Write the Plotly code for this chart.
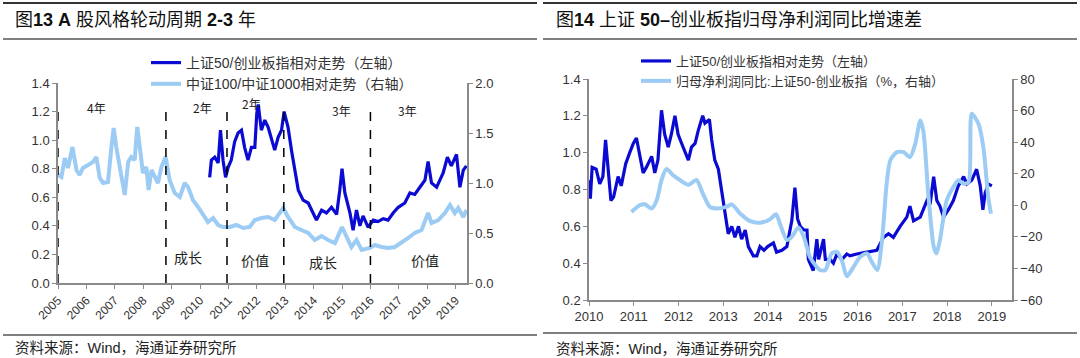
import plotly.graph_objects as go

# ---------------- data: left chart (图13) ----------------
zz_years = [2005.0, 2005.12, 2005.24, 2005.35, 2005.51, 2005.65, 2005.76, 2005.88, 2006.06, 2006.23,
            2006.35, 2006.47, 2006.59, 2006.76, 2006.88, 2006.96, 2007.05, 2007.2, 2007.35, 2007.47,
            2007.58, 2007.7, 2007.79, 2007.88, 2007.99, 2008.11, 2008.19, 2008.29, 2008.41, 2008.52,
            2008.64, 2008.79, 2008.93, 2009.11, 2009.29, 2009.46, 2009.58, 2009.75, 2009.93, 2010.11,
            2010.28, 2010.46, 2010.64, 2010.81, 2011.05, 2011.28, 2011.52, 2011.75, 2011.93, 2012.16,
            2012.4, 2012.63, 2012.93, 2013.1, 2013.34, 2013.57, 2013.81, 2014.04, 2014.28, 2014.51,
            2014.75, 2015.0, 2015.16, 2015.33, 2015.51, 2015.69, 2015.98, 2016.16, 2016.39, 2016.62,
            2016.86, 2017.09, 2017.33, 2017.56, 2017.8, 2018.03, 2018.15, 2018.39, 2018.62, 2018.8,
            2018.97, 2019.09, 2019.27, 2019.38]
zz100_1000 = [1.08, 1.06, 1.25, 1.15, 1.36, 1.13, 1.08, 1.15, 1.18, 1.21,
              1.26, 1.05, 1.0, 1.01, 1.36, 1.55, 1.36, 1.1, 0.88, 1.21,
              1.26, 1.23, 1.56, 1.36, 1.1, 1.16, 0.93, 1.13, 1.06, 1.0,
              1.16, 1.26, 1.03, 0.9, 0.86, 1.0, 0.96, 0.83, 0.76, 0.68,
              0.61, 0.65, 0.58, 0.56, 0.56, 0.58, 0.55, 0.56, 0.63, 0.65,
              0.66, 0.63, 0.75, 0.66, 0.56, 0.53, 0.5, 0.43, 0.47, 0.43,
              0.4, 0.56, 0.47, 0.36, 0.43, 0.33, 0.35, 0.38, 0.36, 0.35,
              0.36, 0.4, 0.45, 0.5, 0.53, 0.7, 0.6, 0.63, 0.7, 0.78,
              0.7, 0.75, 0.66, 0.73]

sz_years_l = [2010.34, 2010.4, 2010.52, 2010.64, 2010.72, 2010.81, 2010.9, 2010.99, 2011.1, 2011.22,
              2011.34, 2011.46, 2011.57, 2011.69, 2011.81, 2011.93, 2012.0, 2012.05, 2012.16, 2012.28,
              2012.4, 2012.52, 2012.63, 2012.75, 2012.87, 2012.96, 2013.1, 2013.22, 2013.34, 2013.46,
              2013.63, 2013.81, 2013.98, 2014.1, 2014.28, 2014.45, 2014.63, 2014.81, 2014.92, 2015.0,
              2015.1, 2015.28, 2015.39, 2015.51, 2015.63, 2015.74, 2015.92, 2016.1, 2016.27, 2016.45,
              2016.62, 2016.8, 2016.98, 2017.21, 2017.39, 2017.56, 2017.74, 2017.92, 2018.03, 2018.15,
              2018.33, 2018.44, 2018.56, 2018.71, 2018.85, 2019.03, 2019.15, 2019.27, 2019.38]
sz50_cyb_l = [0.74, 0.86, 0.88, 0.84, 1.07, 0.86, 0.74, 0.81, 0.86, 0.99,
              1.05, 1.07, 0.95, 0.86, 0.95, 0.95, 1.19, 1.25, 1.07, 1.14,
              1.09, 1.0, 0.93, 1.02, 1.07, 1.2, 1.09, 0.93, 0.79, 0.65,
              0.58, 0.56, 0.49, 0.44, 0.51, 0.49, 0.53, 0.48, 0.65, 0.8,
              0.63, 0.49, 0.37, 0.51, 0.4, 0.47, 0.39, 0.44, 0.43, 0.45,
              0.44, 0.49, 0.53, 0.56, 0.63, 0.62, 0.67, 0.72, 0.85, 0.7,
              0.67, 0.72, 0.77, 0.88, 0.82, 0.9, 0.67, 0.79, 0.82]

cycle_years = [2005.0, 2008.8, 2010.95, 2012.95, 2016.0]
period_labels = ["4年", "2年", "2年", "3年", "3年"]
period_x = [2006.35, 2010.1, 2011.82, 2014.98, 2017.31]
period_y = [1.23, 1.23, 1.26, 1.21, 1.21]
style_labels = ["成长", "价值", "成长", "价值"]
style_x = [2009.57, 2011.93, 2014.32, 2017.91]
style_y = [0.18, 0.16, 0.15, 0.16]

left_xticks = list(range(2005, 2020))

# ---------------- data: right chart (图14) ----------------
sz_years_r = [2010.0, 2010.03, 2010.07, 2010.16, 2010.24, 2010.31, 2010.37, 2010.43, 2010.49, 2010.55,
              2010.65, 2010.72, 2010.82, 2010.91, 2010.99, 2011.06, 2011.13, 2011.21, 2011.28, 2011.4,
              2011.47, 2011.54, 2011.62, 2011.69, 2011.77, 2011.84, 2011.92, 2011.99, 2012.07, 2012.14,
              2012.22, 2012.29, 2012.37, 2012.44, 2012.54, 2012.59, 2012.69, 2012.74, 2012.81, 2012.89,
              2012.96, 2013.04, 2013.11, 2013.19, 2013.26, 2013.34, 2013.41, 2013.49, 2013.56, 2013.67,
              2013.75, 2013.82, 2013.91, 2013.99, 2014.12, 2014.19, 2014.31, 2014.42, 2014.53, 2014.6,
              2014.66, 2014.72, 2014.8, 2014.87, 2014.9, 2015.01, 2015.09, 2015.13, 2015.24, 2015.28,
              2015.39, 2015.46, 2015.54, 2015.65, 2015.76, 2015.83, 2015.98, 2016.21, 2016.43, 2016.58,
              2016.69, 2016.8, 2016.95, 2017.1, 2017.17, 2017.25, 2017.4, 2017.55, 2017.62, 2017.7,
              2017.77, 2017.84, 2017.92, 2018.03, 2018.14, 2018.25, 2018.37, 2018.44, 2018.55, 2018.66,
              2018.74, 2018.8, 2018.85, 2018.92, 2019.0]
sz50_cyb_r = [0.85, 0.75, 0.92, 0.91, 0.83, 0.87, 1.07, 0.91, 0.74, 0.76,
              0.87, 0.82, 0.94, 1.0, 1.05, 1.08, 0.98, 0.89, 0.92, 0.98,
              0.89, 0.96, 1.23, 1.1, 1.03, 1.1, 1.2, 1.1, 1.05, 1.01,
              0.96, 1.03, 1.05, 1.12, 1.2, 1.16, 1.18, 1.07, 0.96, 0.91,
              0.8, 0.67, 0.56, 0.6, 0.54, 0.6, 0.53, 0.58, 0.49, 0.44,
              0.44, 0.49, 0.47, 0.49, 0.51, 0.46, 0.47, 0.49, 0.63, 0.81,
              0.64, 0.6, 0.58, 0.58, 0.42, 0.36, 0.53, 0.42, 0.53, 0.42,
              0.42, 0.4, 0.45, 0.42, 0.45, 0.44, 0.45, 0.46, 0.47, 0.54,
              0.56, 0.54, 0.6, 0.65, 0.71, 0.63, 0.65, 0.74, 0.72, 0.87,
              0.74, 0.71, 0.65, 0.69, 0.74, 0.82, 0.87, 0.83, 0.85, 0.91,
              0.82, 0.69, 0.78, 0.83, 0.82]

np_years = [2010.95, 2011.13, 2011.25, 2011.4, 2011.51, 2011.62, 2011.73, 2011.88, 2012.03, 2012.22,
            2012.4, 2012.55, 2012.7, 2012.85, 2013.07, 2013.19, 2013.37, 2013.6, 2013.82, 2014.04,
            2014.18, 2014.27, 2014.42, 2014.53, 2014.68, 2014.8, 2014.94, 2015.16, 2015.28, 2015.42,
            2015.54, 2015.65, 2015.76, 2015.91, 2016.06, 2016.21, 2016.32, 2016.44, 2016.54, 2016.65,
            2016.73, 2016.88, 2017.03, 2017.17, 2017.29, 2017.4, 2017.47, 2017.58, 2017.7, 2017.76,
            2017.84, 2017.99, 2018.14, 2018.25, 2018.37, 2018.48, 2018.55, 2018.7, 2018.81, 2018.92,
            2018.98]
np_growth_diff = [-4.2, 0, 0.6, -2, 3, 16, 23, 19, 16, 13,
                  16, 7, -1, -2, -1, 0.6, -5, -10, -11, -9,
                  -5.7, -12, -22, -20, -14, -20, -33, -41, -41, -30.5,
                  -29.5, -35, -45, -39, -32.6, -30.5, -36, -41, -24, 13.7,
                  28.4, 33.7, 33.7, 30.5, 39, 53.7, 47, 7, -26, -30.5,
                  -22, 3, 11.6, 15.8, 13.7, 14.7, 58, 51.6, 36.8, 5,
                  -5.3]

right_xticks = list(range(2010, 2020))

# ---------------- styling ----------------
W, H = 1080, 358
DARK = "#0a0ad2"
LIGHT = "#9ccbf4"
AXC = "#8a8a8a"
TXT = "#333333"
FONT = "Liberation Sans, Arial, Noto Sans CJK SC"
CJK = "Noto Sans CJK SC"


def px(x):
    return x / W


def py(y):
    return 1 - y / H


fig = go.Figure()

fig.add_trace(go.Scatter(x=sz_years_l, y=sz50_cyb_l, mode="lines", name="上证50/创业板指相对走势（左轴）",
                         line=dict(color=DARK, width=3.2), xaxis="x", yaxis="y", legend="legend"))
fig.add_trace(go.Scatter(x=zz_years, y=zz100_1000, mode="lines", name="中证100/中证1000相对走势（右轴）",
                         line=dict(color=LIGHT, width=4), xaxis="x", yaxis="y2", legend="legend"))

fig.add_trace(go.Scatter(x=sz_years_r, y=sz50_cyb_r, mode="lines", name="上证50/创业板指相对走势（左轴）",
                         line=dict(color=DARK, width=3.2), xaxis="x2", yaxis="y3", legend="legend2"))
fig.add_trace(go.Scatter(x=np_years, y=np_growth_diff, mode="lines",
                         name="归母净利润同比:上证50-创业板指（%，右轴）",
                         line=dict(color=LIGHT, width=4, shape="spline", smoothing=0.7),
                         xaxis="x2", yaxis="y4", legend="legend2"))

axis_common = dict(showline=True, linecolor=AXC, linewidth=1.5, ticks="outside", tickcolor=AXC,
                   ticklen=4, tickwidth=1, showgrid=False, zeroline=False, automargin=False,
                   tickfont=dict(family=FONT, size=13, color=TXT))

L_dom_x = [px(58), px(467)]
L_dom_y = [py(283), py(83)]
R_dom_x = [px(589), px(1012)]
R_dom_y = [py(300), py(79)]

legend_common = dict(xanchor="left", yanchor="top", bgcolor="rgba(0,0,0,0)",
                     tracegroupgap=0, itemwidth=30)

fig.update_layout(
    width=W, height=H, margin=dict(l=0, r=0, t=0, b=0, autoexpand=False),
    paper_bgcolor="white", plot_bgcolor="white",
    xaxis=dict(axis_common, domain=L_dom_x, range=[2005, 2019.4], tickvals=left_xticks,
               ticktext=[str(v) for v in left_xticks], tickangle=-45,
               tickfont=dict(family=FONT, size=12, color=TXT), anchor="y"),
    yaxis=dict(axis_common, domain=L_dom_y, range=[0, 1.4], dtick=0.2, tickformat=".1f", anchor="x"),
    yaxis2=dict(axis_common, overlaying="y", side="right", range=[0, 2.0], dtick=0.5,
                tickformat=".1f", anchor="x"),
    xaxis2=dict(axis_common, domain=R_dom_x, range=[2010, 2019.45], tickvals=right_xticks,
                ticktext=[str(v) for v in right_xticks], anchor="y3"),
    yaxis3=dict(axis_common, domain=R_dom_y, range=[0.2, 1.4], dtick=0.2, tickformat=".1f", anchor="x2"),
    yaxis4=dict(axis_common, overlaying="y3", side="right", range=[-60, 80], dtick=20, anchor="x2"),
    legend=dict(legend_common, x=px(146), y=py(47), font=dict(family=FONT, size=14, color=TXT)),
    legend2=dict(legend_common, x=px(636), y=py(46), font=dict(family=FONT, size=13, color=TXT)),
)

shapes = []
for x0, x1 in [(3, 537), (543, 1077)]:
    shapes.append(dict(type="line", xref="paper", yref="paper", x0=px(x0), x1=px(x1), y0=py(3), y1=py(3),
                       line=dict(color="#333333", width=2)))
    shapes.append(dict(type="line", xref="paper", yref="paper", x0=px(x0), x1=px(x1), y0=py(39), y1=py(39),
                       line=dict(color="#555555", width=1.5)))
shapes.append(dict(type="line", xref="paper", yref="paper", x0=px(3), x1=px(537), y0=py(335), y1=py(335),
                   line=dict(color="#555555", width=1.5)))
shapes.append(dict(type="line", xref="paper", yref="paper", x0=px(543), x1=px(1077), y0=py(333), y1=py(333),
                   line=dict(color="#555555", width=1.5)))
for cy in cycle_years:
    shapes.append(dict(type="line", xref="x", yref="y", x0=cy, x1=cy, y0=0, y1=1.25,
                       line=dict(color="black", width=1.5, dash="dash")))
fig.update_layout(shapes=shapes)

ann = []
ann.append(dict(text="图<b>13 A</b> 股风格轮动周期 <b>2-3</b> 年", xref="paper", yref="paper",
                x=px(13), y=py(20), xanchor="left", yanchor="middle", showarrow=False,
                font=dict(family=FONT, size=18, color="#111111")))
ann.append(dict(text="图<b>14</b> 上证 <b>50–</b>创业板指归母净利润同比增速差", xref="paper", yref="paper",
                x=px(554), y=py(20), xanchor="left", yanchor="middle", showarrow=False,
                font=dict(family=FONT, size=18, color="#111111")))
ann.append(dict(text="资料来源：Wind，海通证券研究所", xref="paper", yref="paper",
                x=px(13), y=py(348), xanchor="left", yanchor="middle", showarrow=False,
                font=dict(family=FONT, size=14.5, color="#222222")))
ann.append(dict(text="资料来源：Wind，海通证券研究所", xref="paper", yref="paper",
                x=px(554), y=py(349), xanchor="left", yanchor="middle", showarrow=False,
                font=dict(family=FONT, size=14.5, color="#222222")))
for t, x, y in zip(period_labels, period_x, period_y):
    ann.append(dict(text=t, xref="x", yref="y", x=x, y=y, showarrow=False,
                    font=dict(family=CJK, size=12, color="#222222")))
for t, x, y in zip(style_labels, style_x, style_y):
    ann.append(dict(text=t, xref="x", yref="y", x=x, y=y, showarrow=False,
                    font=dict(family=CJK, size=14, color="#222222")))
fig.update_layout(annotations=ann)

fig.write_html("out.html", config={"displayModeBar": False},
               post_script="document.body.style.margin='0';document.body.style.padding='0';")
